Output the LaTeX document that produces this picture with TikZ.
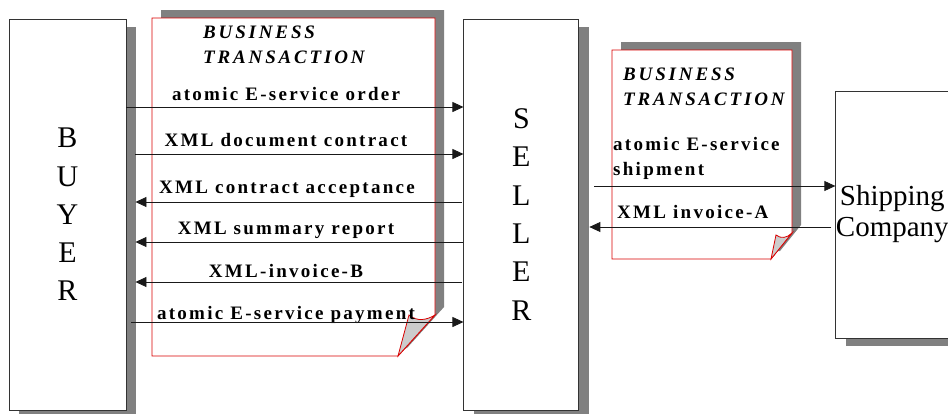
\documentclass[tikz,border=0pt]{standalone}
\usepackage{fontspec}
\setmainfont{Liberation Serif}
\newfontfamily\msgfont[LetterSpace=12]{Liberation Serif}
\newfontfamily\ttlfont[LetterSpace=15]{Liberation Serif}
\usetikzlibrary{positioning,arrows.meta,calc,shadows}

\begin{document}
\begin{tikzpicture}[
  x=1pt, y=-1pt,
  >={Triangle[length=11pt,width=10pt]},
  party/.style={draw=black!80, line width=0.9pt, fill=white, inner sep=0pt, align=center,
    general shadow={fill=black!50, shadow xshift=10pt, shadow yshift=-8pt}},
  bigtxt/.style={font=\fontsize{30}{38.3}\selectfont},
  msg/.style={font=\msgfont\bfseries\fontsize{19}{25}\selectfont, anchor=base, inner sep=0pt},
  ttl/.style={font=\ttlfont\bfseries\itshape\fontsize{19}{25}\selectfont, anchor=base west, inner sep=0pt, align=left},
  page/.style={draw=red!85!black, fill=white, line width=0.8pt},
  pageshade/.style={fill=black!50, xshift=9pt, yshift=8pt},
  fold/.style={draw=red!85!black, fill=black!20, line width=0.8pt},
  flow/.style={->, draw=black!90, line width=0.8pt}
]
\useasboundingbox (0,0) rectangle (948,413);

% ---------- transaction sheets ----------
\fill[pageshade] (152,18) -- (435,18) -- (435,315) -- (398,356) -- (152,356) -- cycle;
\draw[page] (152,18) -- (435,18) -- (435,315) -- (398,356) -- (152,356) -- cycle;
\draw[fold] (398,356) -- (409,315) .. controls (417,322) and (427,320) .. (435,315) -- cycle;
\fill[pageshade] (612,50) -- (792,50) -- (792,233) -- (771,259) -- (612,259) -- cycle;
\draw[page] (612,50) -- (792,50) -- (792,233) -- (771,259) -- (612,259) -- cycle;
\draw[fold] (771,259) -- (776,235) .. controls (781,239) and (787,238) .. (792,233) -- cycle;
\node[ttl] (bt1) at (203,63) {BUSINESS\\TRANSACTION};
\node[ttl] (bt2) at (623,105) {BUSINESS\\TRANSACTION};

% ---------- parties ----------
\node[party, bigtxt, minimum width=117pt, minimum height=391pt] (buyer) at (67.5,214.5) {B\\U\\Y\\E\\R};
\node[party, bigtxt, minimum width=115pt, minimum height=391pt, right=337pt of buyer] (seller) {S\\E\\L\\L\\E\\R};
\node[party, font=\fontsize{29}{31}\selectfont, minimum width=113pt, minimum height=247pt, right=256pt of seller] (ship) {Shipping\\Company};

% ---------- messages ----------
\node[msg] (m1) at (286,100) {atomic E-service order};
\node[msg] (m2) at (286,146) {XML document contract};
\node[msg] (m3) at (287,193) {XML contract acceptance};
\node[msg] (m4) at (286,234) {XML summary report};
\node[msg] (m5) at (286,277) {XML-invoice-B};
\node[msg] (m6) at (286,319) {atomic E-service payment};
\node[msg, anchor=base west, align=left] (m7) at (613,175) {atomic E-service\\shipment};
\node[msg, anchor=base west] (m8) at (617,218) {XML invoice-A};

% ---------- arrows ----------
\draw[flow] ($(buyer.east |- m1.base)+(0,7)$) -- ($(seller.west |- m1.base)+(0,7)$);
\draw[flow] ($(buyer.east |- m2.base)+(9,8)$) -- ($(seller.west |- m2.base)+(0,8)$);
\draw[flow] ($(seller.west |- m3.base)+(-1,9)$) -- ($(buyer.east |- m3.base)+(9,9)$);
\draw[flow] ($(seller.west |- m4.base)+(0,8)$) -- ($(buyer.east |- m4.base)+(9,8)$);
\draw[flow] ($(seller.west |- m5.base)+(-1,5)$) -- ($(buyer.east |- m5.base)+(9,5)$);
\draw[flow] ($(buyer.east |- m6.base)+(5,3)$) -- ($(seller.west |- m6.base)+(0,3)$);
\draw[flow] ($(seller.east |- ship.west)+(15,-28.5)$) -- ($(ship.west)+(0,-28.5)$);
\draw[flow] ($(ship.west)+(-4,12.5)$) -- ($(seller.east |- ship.west)+(10,12.5)$);
\end{tikzpicture}
\end{document}
